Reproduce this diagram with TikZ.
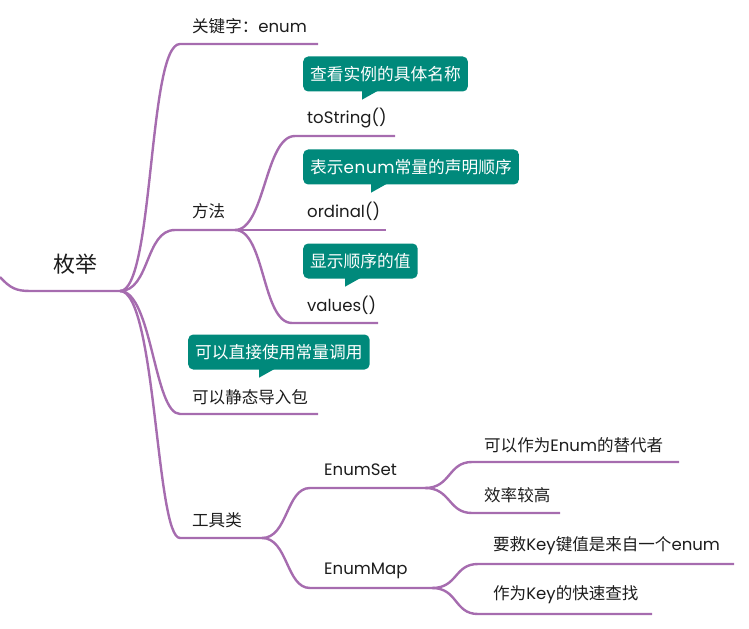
\documentclass[tikz,border=0pt]{standalone}
\usepackage{fontspec}
\setmainfont{Poppins}
\newfontfamily\cjk{Noto Sans CJK SC}
\newfontfamily\widelat[LetterSpace=4]{Poppins}
\usetikzlibrary{calc}
\definecolor{branch}{RGB}{166,108,175}
\definecolor{tealbox}{RGB}{0,137,123}
\definecolor{txt}{RGB}{28,28,28}
\begin{document}
\begin{tikzpicture}[x=1bp,y=-1bp,
  lbl/.style={anchor=west,inner sep=0pt,font=\fontsize{16.6}{18}\selectfont,text=txt},
  rootlbl/.style={inner sep=0pt,font=\fontsize{22}{24}\selectfont,text=txt},
  callout/.style={anchor=west,fill=tealbox,rounded corners=5bp,text=white,inner xsep=7bp,inner ysep=0pt,minimum height=35bp,font=\fontsize{16.8}{18}\selectfont},
  tail/.style={fill=tealbox},
  conn/.style={draw=branch,line width=2.4bp}]
\useasboundingbox (0,0) rectangle (749,629);

% ---- hubs and line ends
\coordinate (rs) at (0,277);
\coordinate (rc) at (30,291);
\coordinate (h0) at (120,291);
\coordinate (k1) at (180,44);  \coordinate (k1e) at (318,44);
\coordinate (k2) at (175,230); \coordinate (h2) at (235,230);
\coordinate (m1) at (295,136); \coordinate (m1e) at (395,136);
\coordinate (m2e) at (386,230);
\coordinate (m3) at (292,323); \coordinate (m3e) at (378,323);
\coordinate (k3) at (180,414); \coordinate (k3e) at (318,414);
\coordinate (k4) at (180,538); \coordinate (h4) at (262,538);
\coordinate (s1) at (310,488); \coordinate (hs) at (425,488);
\coordinate (s2) at (310,588); \coordinate (hm) at (432,588);
\coordinate (a1) at (472,462); \coordinate (a1e) at (679,462);
\coordinate (a2) at (472,513); \coordinate (a2e) at (560,513);
\coordinate (b1) at (478,564); \coordinate (b1e) at (734,564);
\coordinate (b2) at (478,614); \coordinate (b2e) at (652,614);

% ---- connectors
\draw[conn] (rs) .. controls +(10,11) and +(-14,0) .. (rc) -- (h0);
\draw[conn] (h0) .. controls +(34,0) and +(-32,0) .. (k1) -- (k1e);
\draw[conn] (h0) .. controls +(30,0) and +(-30,0) .. (k2) -- (h2);
\draw[conn] (h0) .. controls +(32,0) and +(-26,0) .. (k3) -- (k3e);
\draw[conn] (h0) .. controls +(36,0) and +(-24,0) .. (k4) -- (h4);
\draw[conn] (h2) .. controls +(30,0) and +(-30,0) .. (m1) -- (m1e);
\draw[conn] (h2) -- (m2e);
\draw[conn] (h2) .. controls +(30,0) and +(-30,0) .. (m3) -- (m3e);
\draw[conn] (h4) .. controls +(26,0) and +(-24,0) .. (s1) -- (hs);
\draw[conn] (h4) .. controls +(26,0) and +(-24,0) .. (s2) -- (hm);
\draw[conn] (hs) .. controls +(26,0) and +(-24,0) .. (a1) -- (a1e);
\draw[conn] (hs) .. controls +(26,0) and +(-24,0) .. (a2) -- (a2e);
\draw[conn] (hm) .. controls +(26,0) and +(-24,0) .. (b1) -- (b1e);
\draw[conn] (hm) .. controls +(26,0) and +(-24,0) .. (b2) -- (b2e);

% ---- labels
\node[rootlbl] (root) at (75,264) {\cjk 枚举};
\node[lbl] (kw) at (192,26) {{\cjk 关键字：}enum};
\node[lbl] (ff) at (192,211) {\cjk 方法};
\node[lbl] (ts) at (307,118) {toString()};
\node[lbl] (od) at (307,211) {ordinal()};
\node[lbl] (vs) at (307,305) {values()};
\node[lbl] (jt) at (192,397) {\cjk 可以静态导入包};
\node[lbl] (gj) at (192,520) {\cjk 工具类};
\node[lbl] (es) at (324,470) {EnumSet};
\node[lbl] (em) at (324,571) {EnumMap};
\node[lbl] (e1) at (484,445) {{\cjk 可以作为}Enum{\cjk 的替代者}};
\node[lbl] (e2) at (484,495) {\cjk 效率较高};
\node[lbl] (p1) at (493,546) {{\cjk 要救}Key{\cjk 键值是来自一个}enum};
\node[lbl] (p2) at (493,595) {{\cjk 作为}Key{\cjk 的快速查找}};

% ---- callouts
\node[callout] (c1) at (303,74) {\cjk 查看实例的具体名称};
\node[callout] (c2) at (303,167) {{\cjk 表示}{\widelat enum}{\cjk 常量的声明顺序}};
\node[callout] (c3) at (303,261) {\cjk 显示顺序的值};
\node[callout] (c4) at (188,352) {\cjk 可以直接使用常量调用};
\fill[tail] ($(c1.south west)+(59,-1)$) -- ++(0,9) -- ++(16,-9) -- cycle;
\fill[tail] ($(c2.south west)+(68,-1)$) -- ++(0,9) -- ++(16,-9) -- cycle;
\fill[tail] ($(c3.south west)+(42,-1)$) -- ++(0,9) -- ++(16,-9) -- cycle;
\fill[tail] ($(c4.south west)+(71,-1)$) -- ++(0,9) -- ++(16,-9) -- cycle;
\end{tikzpicture}
\end{document}
